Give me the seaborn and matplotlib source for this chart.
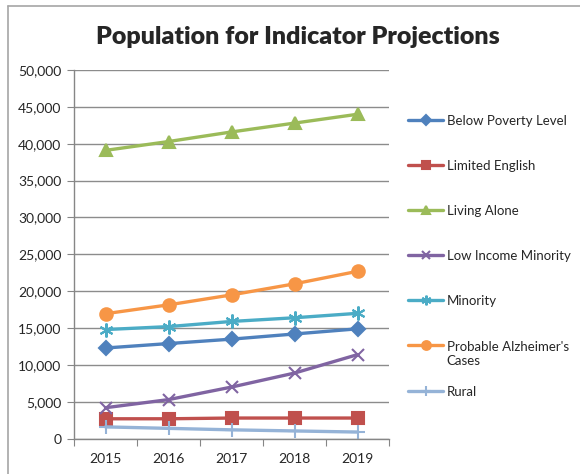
import seaborn as sns
import matplotlib.pyplot as plt
import pandas as pd
from matplotlib.lines import Line2D
from matplotlib.ticker import FuncFormatter, FixedLocator

# --------------------------
# 1. Data
# --------------------------
years = [2015, 2016, 2017, 2018, 2019]
below_poverty = [12300, 12900, 13500, 14200, 14900]
limited_english = [2700, 2700, 2800, 2800, 2800]
living_alone = [39100, 40300, 41600, 42800, 44000]
low_income_minority = [4200, 5300, 7000, 8900, 11400]
minority = [14800, 15200, 15900, 16400, 17000]
alzheimers = [16950, 18150, 19500, 21000, 22700]
rural = [1600, 1400, 1200, 1050, 900]

series_names = ["Below Poverty Level", "Limited English", "Living Alone",
                "Low Income Minority", "Minority",
                "Probable Alzheimer's\nCases", "Rural"]
series_values = [below_poverty, limited_english, living_alone,
                 low_income_minority, minority, alzheimers, rural]

df = pd.DataFrame(
    [(name, yr, v) for name, vals in zip(series_names, series_values)
     for yr, v in zip(years, vals)],
    columns=["Series", "Year", "Population"],
)

colors = ["#4F81BD", "#C0504D", "#9BBB59", "#8064A2", "#4BACC6", "#F79646", "#95B3D7"]
markers = ["D", "s", "^", "x", (6, 2, 0), "o", "+"]
msizes = [7, 9, 9, 9, 10, 9, 10]

# ---------------------------------
# 2. Style
# ---------------------------------
sns.set_style("white")
plt.rcParams["font.family"] = ["Lato", "DejaVu Sans"]

fig = plt.figure(figsize=(5.8, 4.74), dpi=100)
ax = fig.add_axes([0.1276, 0.0745, 0.5431, 0.7778])

for name, c, m, ms in zip(series_names, colors, markers, msizes):
    sub = df[df["Series"] == name]
    sns.lineplot(data=sub, x="Year", y="Population", ax=ax, color=c,
                 marker=m, markersize=ms, markeredgecolor=c, markeredgewidth=1.5,
                 linewidth=2.4, label=name, legend=False)

# ---------------------------------
# 3. Axes formatting
# ---------------------------------
ax.set_xlim(2014.5, 2019.5)
ax.set_ylim(0, 50000)
ax.set_yticks(range(0, 50001, 5000))
ax.yaxis.set_major_formatter(FuncFormatter(lambda v, p: f"{int(v):,}"))
ax.xaxis.set_major_locator(FixedLocator([2014.5 + i for i in range(6)]))
ax.xaxis.set_major_formatter(FuncFormatter(lambda v, p: ""))
ax.xaxis.set_minor_locator(FixedLocator(years))
ax.xaxis.set_minor_formatter(FuncFormatter(lambda v, p: str(int(round(v)))))
ax.tick_params(axis="x", which="major", length=5, color="#868686", direction="out", bottom=True)
ax.tick_params(axis="x", which="minor", length=0, labelsize=10, pad=10, bottom=True)
ax.tick_params(axis="y", length=5, color="#868686", direction="out", labelsize=10, left=True, pad=4)
ax.grid(axis="y", color="#8C8C8C", linewidth=1)
ax.set_axisbelow(True)
for side in ["top", "right"]:
    ax.spines[side].set_visible(False)
for side in ["left", "bottom"]:
    ax.spines[side].set_color("#868686")
    ax.spines[side].set_linewidth(1)
ax.set_xlabel("")
ax.set_ylabel("")

fig.text(0.514, 0.922, "Population for Indicator Projections", ha="center", va="center",
         fontsize=18, fontweight="heavy")

# ---------------------------------
# 4. Legend (split so the wrapped entry sits like Excel's)
# ---------------------------------
handles, labels = ax.get_legend_handles_labels()
leg_kw = dict(loc="upper left", frameon=False, fontsize=9.5, handlelength=2.6,
              handletextpad=0.3, borderaxespad=0, markerscale=0.7)
leg1 = fig.legend(handles[:5], labels[:5], bbox_to_anchor=(0.695, 0.769),
                  labelspacing=2.5, **leg_kw)
leg2 = fig.legend(handles[5:], labels[5:], bbox_to_anchor=(0.695, 0.292),
                  labelspacing=1.45, **leg_kw)
for col in leg2._legend_handle_box.get_children():
    for row in col.get_children():
        row.align = "top"

# chart frame (spreadsheet border)
fig.add_artist(Line2D([0.014, 0.014], [0, 0.988], color="#A6A6A6", linewidth=1.2))
fig.add_artist(Line2D([0.014, 1.0], [0.988, 0.988], color="#A6A6A6", linewidth=1.2))

fig.savefig("out.png", dpi=100)
plt.close()
